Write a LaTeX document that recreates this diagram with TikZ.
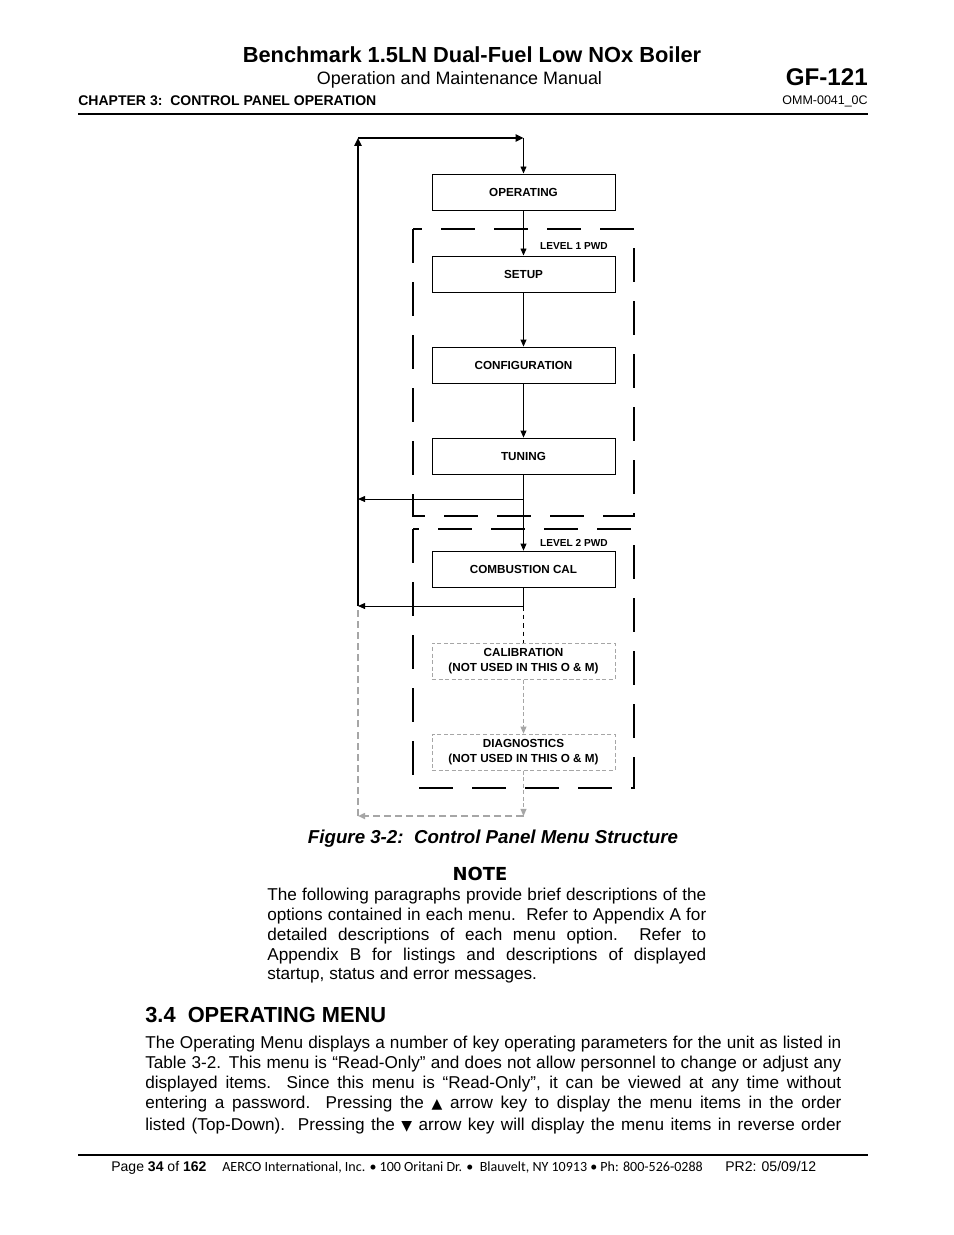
\documentclass[tikz,border=0pt]{standalone}
\usepackage{fontspec}
\setmainfont{Liberation Sans}
\newfontfamily\calibrifont{Carlito}
\newfontfamily\dejavufont{DejaVu Sans}
\usetikzlibrary{positioning, arrows.meta}
\definecolor{menugray}{HTML}{A6A6A6}

\begin{document}
\begin{tikzpicture}[x=0.6415pt, y=-0.6415pt,
		menubox/.style={draw, line width=0.6pt, minimum width=117.4pt, minimum height=23.1pt, inner sep=0pt, align=center, font=\bfseries\fontsize{7.5}{9.6}\selectfont},
		unusedbox/.style={menubox, draw=menugray, dash pattern=on 2.6pt off 1.6pt},
		levelbox/.style={draw, line width=1.9pt, dash pattern=on 22pt off 12pt},
		levellabel/.style={inner sep=0pt, font=\bfseries\fontsize{6.5}{7.5}\selectfont},
		flow/.style={line width=0.6pt, -{Triangle[length=4.5pt, width=3.8pt]}},
		loop/.style={line width=1.3pt, -{Triangle[length=5pt, width=4.5pt]}},
		grayflow/.style={flow, draw=menugray, dash pattern=on 2.6pt off 1.6pt},
		grayloop/.style={line width=1.3pt, draw=menugray, dash pattern=on 4.5pt off 2.6pt},
		txt/.style={inner sep=0pt, anchor=base west, font=\fontsize{11}{13}\selectfont},
	]
		\fill[white] (0,0) rectangle (954,1235);
		\useasboundingbox (0,0) rectangle (954,1235);

		% page header
		\node[inner sep=0pt, anchor=base, font=\bfseries\fontsize{14}{16}\selectfont] (title) at (472,62) {Benchmark 1.5LN Dual-Fuel Low NOx Boiler};
		\node[inner sep=0pt, anchor=base, font=\fontsize{11.5}{13}\selectfont] (subtitle) at (459.5,84) {Operation and Maintenance Manual};
		\node[inner sep=0pt, anchor=base west, font=\bfseries\fontsize{9}{11}\selectfont] (chapter) at (78,105) {CHAPTER 3:\ \ CONTROL PANEL OPERATION};
		\node[inner sep=0pt, anchor=base east, font=\bfseries\fontsize{15.5}{18}\selectfont] (docid) at (868,85) {GF-121};
		\node[inner sep=0pt, anchor=base east, font=\fontsize{8}{10}\selectfont] (docnum) at (868,104) {OMM-0041\_0C};
		\draw[line width=1.4pt] (78,114) -- (868,114);

		% password levels
		\draw[levelbox] (413,229) rectangle (634,516);
		\draw[levelbox] (413,529) rectangle (634,788);
		\node[levellabel] (pwd1) at (574,246) {LEVEL 1 PWD};
		\node[levellabel] (pwd2) at (574,543) {LEVEL 2 PWD};

		% menus
		\node[menubox] (operating) at (523.5,192) {OPERATING};
		\node[menubox, below=28.9pt of operating] (setup) {SETUP};
		\node[menubox, below=34.7pt of setup] (config) {CONFIGURATION};
		\node[menubox, below=34.7pt of config] (tuning) {TUNING};
		\node[menubox, below=48.8pt of tuning] (combustion) {COMBUSTION CAL};
		\node[unusedbox, below=35.3pt of combustion] (calibration) {CALIBRATION\\(NOT USED IN THIS O \& M)};
		\node[unusedbox, below=34.7pt of calibration] (diagnostics) {DIAGNOSTICS\\(NOT USED IN THIS O \& M)};

		\coordinate (looptop) at (358,138);
		\coordinate (loopin) at (523.5,138);
		\coordinate (split1) at (523.5,499);
		\coordinate (back1) at (358,499);
		\coordinate (split2) at (523.5,606);
		\coordinate (back2) at (358,606);
		\coordinate (graydown) at (523.5,816);
		\coordinate (grayleft) at (358,816);

		\draw[flow] (operating) -- (setup);
		\draw[flow] (setup) -- (config);
		\draw[flow] (config) -- (tuning);
		\draw[flow] (tuning) -- (combustion);
		\draw[flow] (split1) -- (back1);
		\draw[line width=0.6pt] (combustion) -- (split2);
		\draw[flow] (split2) -- (back2);
		\draw[line width=0.6pt, dash pattern=on 3pt off 2.5pt] (split2) -- (calibration);
		\draw[grayflow] (calibration) -- (diagnostics);
		\draw[grayflow] (diagnostics) -- (graydown);
		\draw[grayflow, line width=1.3pt, dash pattern=on 4.5pt off 2.6pt] (graydown) -- (grayleft);
		\draw[grayloop] (grayleft) -- (back2);
		\draw[loop] (back2) -- (looptop);
		\draw[loop] (looptop) -- (loopin);
		\draw[flow] (loopin) -- (operating);

		\node[inner sep=0pt, anchor=base, font=\bfseries\itshape\fontsize{12}{14}\selectfont] (caption) at (493,843) {Figure 3-2:\ \ Control Panel Menu Structure};

		% note
		\node[inner sep=0pt, anchor=base, font=\dejavufont\bfseries\fontsize{11.5}{13}\selectfont] (notehead) at (480,880) {NOTE};
		\node[txt] (note1) at (267,900) {\makebox[281.6pt][s]{The following paragraphs provide brief descriptions of the}};
		\node[txt] (note2) at (267,920) {\makebox[281.6pt][s]{options contained in each menu.\ \ Refer to Appendix A for}};
		\node[txt] (note3) at (267,940) {\makebox[281.6pt][s]{detailed descriptions of each menu option.\ \ Refer to}};
		\node[txt] (note4) at (267,960) {\makebox[281.6pt][s]{Appendix B for listings and descriptions of displayed}};
		\node[txt] (note5) at (267,979) {startup, status and error messages.};

		% section 3.4
		\node[inner sep=0pt, anchor=base west, font=\bfseries\fontsize{14}{16}\selectfont] (section) at (145,1022) {3.4\ \ OPERATING MENU};
		\node[txt] (body1) at (145,1048) {\makebox[446.5pt][s]{The Operating Menu displays a number of key operating parameters for the unit as listed in}};
		\node[txt] (body2) at (145,1068) {\makebox[446.5pt][s]{Table 3-2. This menu is “Read-Only” and does not allow personnel to change or adjust any}};
		\node[txt] (body3) at (145,1088) {\makebox[446.5pt][s]{displayed items. Since this menu is “Read-Only”, it can be viewed at any time without}};
		\node[txt] (body4) at (145,1108) {\makebox[446.5pt][s]{entering a password.\ \ Pressing the {\dejavufont\fontsize{9}{11}\selectfont ▲} arrow key to display the menu items in the order}};
		\node[txt] (body5) at (145,1130) {\makebox[446.5pt][s]{listed (Top-Down).\ \ Pressing the {\dejavufont\fontsize{9}{11}\selectfont ▼} arrow key will display the menu items in reverse order}};

		% page footer
		\draw[line width=1.4pt] (78,1155) -- (868,1155);
		\node[inner sep=0pt, anchor=base west, font=\fontsize{9}{11}\selectfont] (pagenum) at (111,1171) {Page \textbf{34} of \textbf{162}};
		\node[inner sep=0pt, anchor=base west, font=\calibrifont\fontsize{9}{11}\selectfont] (address) at (222,1171) {AERCO International, Inc. • 100 Oritani Dr. •\ \ Blauvelt, NY 10913 • Ph: 800-526-0288};
		\node[inner sep=0pt, anchor=base west, font=\fontsize{9}{11}\selectfont] (revision) at (725,1171) {PR2: 05/09/12};
	\end{tikzpicture}
\end{document}
